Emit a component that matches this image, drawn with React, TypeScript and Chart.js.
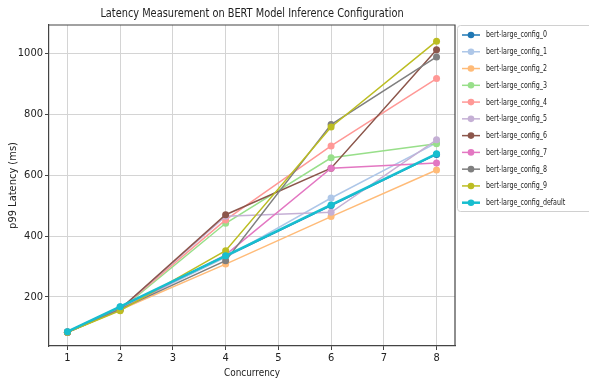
import React, { useEffect, useRef } from "react";
import { Chart, registerables } from "chart.js";

Chart.register(...registerables);

const concurrency = [1, 2, 4, 6, 8];
const seriesNames = [
  "bert-large_config_0",
  "bert-large_config_1",
  "bert-large_config_2",
  "bert-large_config_3",
  "bert-large_config_4",
  "bert-large_config_5",
  "bert-large_config_6",
  "bert-large_config_7",
  "bert-large_config_8",
  "bert-large_config_9",
  "bert-large_config_default",
];
const config0 = [86, 167, 333, 500, 668];
const config1 = [85, 162, 330, 525, 706];
const config2 = [84, 158, 308, 464, 617];
const config3 = [84, 158, 442, 657, 703];
const config4 = [84, 160, 453, 696, 917];
const config5 = [84, 160, 465, 478, 716];
const config6 = [84, 160, 470, 623, 1012];
const config7 = [84, 160, 338, 623, 640];
const config8 = [84, 160, 319, 766, 988];
const config9 = [84, 155, 352, 758, 1040];
const configDefault = [86, 168, 335, 502, 670];
const seriesValues = [config0, config1, config2, config3, config4, config5, config6, config7, config8, config9, configDefault];
const seriesColors = [
  "#1f77b4",
  "#aec7e8",
  "#ffbb78",
  "#98df8a",
  "#ff9896",
  "#c5b0d5",
  "#8c564b",
  "#e377c2",
  "#7f7f7f",
  "#bcbd22",
  "#17becf",
];
const xTicks = [1, 2, 3, 4, 5, 6, 7, 8];
const yTicks = [200, 400, 600, 800, 1000];
const titleText = "Latency Measurement on BERT Model Inference Configuration";
const xTitle = "Concurrency";
const yTitle = "p99 Latency (ms)";

const FONT = "'DejaVu Sans Condensed', 'DejaVu Sans', sans-serif";

function squeezedText(ctx: CanvasRenderingContext2D, text: string, x: number, y: number, sx: number) {
  ctx.save();
  ctx.translate(x, y);
  ctx.scale(sx, 1);
  ctx.fillText(text, 0, 0);
  ctx.restore();
}

const decorPlugin = {
  id: "decor",
  afterDraw(chart: any) {
    const ctx = chart.ctx as CanvasRenderingContext2D;
    const a = chart.chartArea;
    ctx.save();
    // top and right spines
    ctx.strokeStyle = "#444";
    ctx.lineWidth = 1.2;
    ctx.beginPath();
    ctx.moveTo(a.left, a.top);
    ctx.lineTo(a.right, a.top);
    ctx.lineTo(a.right, a.bottom);
    ctx.stroke();
    // title
    ctx.fillStyle = "#222";
    ctx.textAlign = "center";
    ctx.textBaseline = "middle";
    ctx.font = `12.5px ${FONT}`;
    const cx = (a.left + a.right) / 2;
    squeezedText(ctx, titleText, cx, 14, 0.87);
    ctx.font = `11px ${FONT}`;
    squeezedText(ctx, xTitle, cx, 373, 0.9);
    ctx.save();
    ctx.translate(13, (a.top + a.bottom) / 2);
    ctx.rotate(-Math.PI / 2);
    ctx.fillText(yTitle, 0, 0);
    ctx.restore();
    // legend
    const lx = 457;
    const ly = 25;
    const lw = 170;
    const lh = 186;
    ctx.fillStyle = "rgba(255,255,255,0.85)";
    ctx.strokeStyle = "#d0d0d0";
    ctx.lineWidth = 1;
    ctx.beginPath();
    ctx.roundRect(lx + 0.5, ly + 0.5, lw, lh, 3);
    ctx.fill();
    ctx.stroke();
    const ds = chart.data.datasets;
    ctx.font = `9.5px ${FONT}`;
    ctx.textAlign = "left";
    ds.forEach((d: any, i: number) => {
      const y = 35 + i * 16.77;
      ctx.strokeStyle = d.borderColor;
      ctx.lineWidth = d.borderWidth;
      ctx.beginPath();
      ctx.moveTo(462, y);
      ctx.lineTo(480, y);
      ctx.stroke();
      ctx.fillStyle = d.borderColor;
      ctx.beginPath();
      ctx.arc(471, y, 3.3, 0, Math.PI * 2);
      ctx.fill();
      ctx.fillStyle = "#222";
      squeezedText(ctx, d.label, 486, y, 0.74);
    });
    ctx.restore();
  },
};

export default function App() {
  const ref = useRef<HTMLCanvasElement | null>(null);
  useEffect(() => {
    document.body.style.margin = "0";
    const canvas = ref.current!;
    const n = seriesNames.length;
    const chart = new Chart(canvas, {
      type: "line",
      data: {
        datasets: seriesNames.map((name, i) => ({
          label: name,
          data: concurrency.map((c, j) => ({ x: c, y: seriesValues[i][j] })),
          borderColor: seriesColors[i],
          backgroundColor: seriesColors[i],
          pointBackgroundColor: seriesColors[i],
          pointBorderWidth: 0,
          pointRadius: 3.5,
          borderWidth: i === n - 1 ? 2.5 : 1.5,
          tension: 0,
          order: n - i,
        })),
      },
      options: {
        responsive: false,
        animation: false,
        layout: { padding: { top: 25, right: 134, left: 0, bottom: 0 } },
        plugins: { legend: { display: false }, tooltip: { enabled: false }, title: { display: false } },
        scales: {
          x: {
            type: "linear",
            min: 0.65,
            max: 8.35,
            afterBuildTicks: (s: any) => {
              s.ticks = xTicks.map((v) => ({ value: v }));
            },
            afterFit: (s: any) => {
              s.height = 34;
            },
            ticks: {
              font: { family: FONT, size: 11 },
              color: "#222",
              padding: 2,
              maxRotation: 0,
              callback: (v: any) => String(v),
            },
            grid: { color: "#d4d4d4", lineWidth: 1, tickLength: 4, tickColor: "#444" },
            border: { color: "#444", width: 1.2 },
          },
          y: {
            type: "linear",
            min: 39,
            max: 1093,
            afterBuildTicks: (s: any) => {
              s.ticks = yTicks.map((v) => ({ value: v }));
            },
            afterFit: (s: any) => {
              s.width = 49;
            },
            ticks: {
              font: { family: FONT, size: 11 },
              color: "#222",
              padding: 2,
              callback: (v: any) => String(v),
            },
            grid: { color: "#d4d4d4", lineWidth: 1, tickLength: 4, tickColor: "#444" },
            border: { color: "#444", width: 1.2 },
          },
        },
      },
      plugins: [decorPlugin],
    });
    return () => chart.destroy();
  }, []);
  return (
    <div style={{ position: "fixed", left: 0, top: 0, width: 589, height: 380, background: "#fff" }}>
      <canvas ref={ref} width={589} height={380} style={{ width: 589, height: 380, display: "block" }} />
    </div>
  );
}
